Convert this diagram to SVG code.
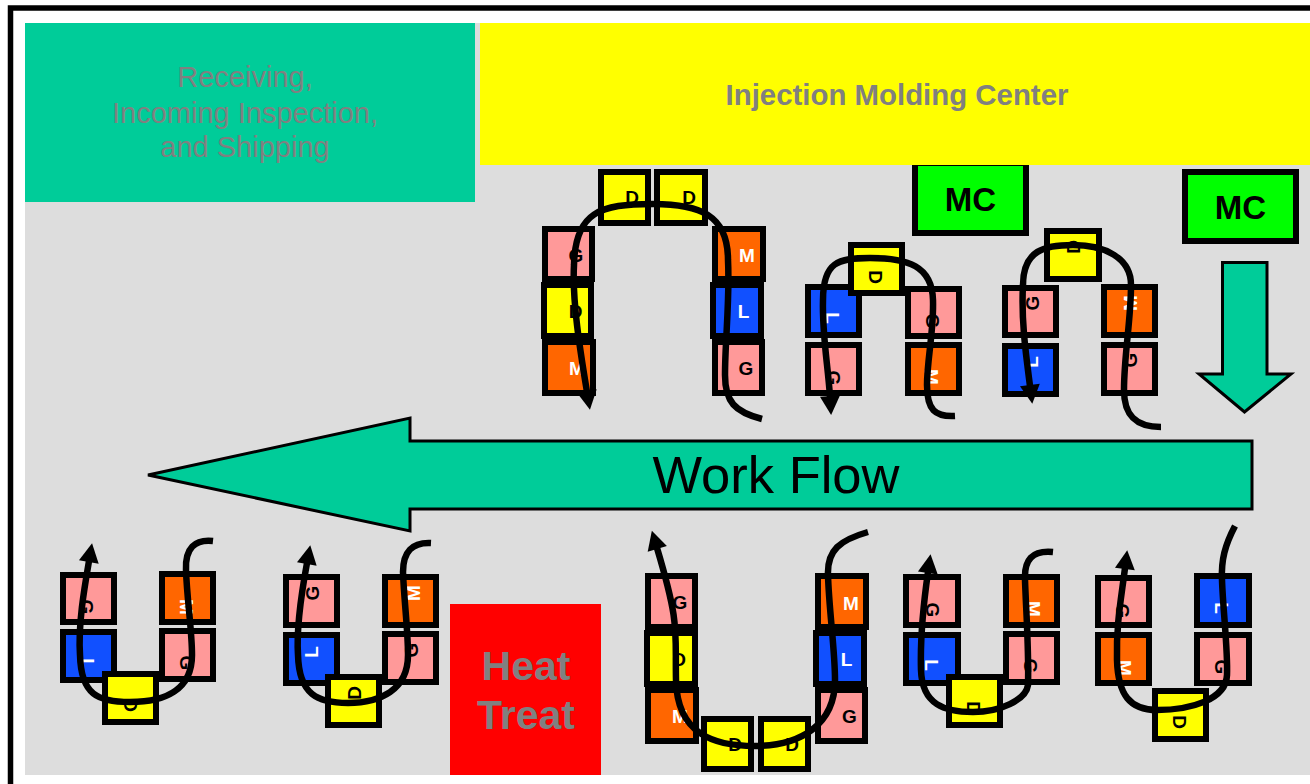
<svg xmlns="http://www.w3.org/2000/svg" width="1310" height="784" viewBox="0 0 1310 784">
<style>
.b{stroke:#000;stroke-width:6}
.p{fill:#FF9999}.o{fill:#FF6600}.u{fill:#1150FF}.y{fill:#FFFF00}.g{fill:#00FF00}
text{font-family:"Liberation Sans",Arial,sans-serif}
.l{font-size:19px;font-weight:bold;text-anchor:middle;fill:#000}
.w{fill:#fff}
.m{font-size:33px;font-weight:bold;text-anchor:middle;fill:#000}
.c{fill:none;stroke:#000;stroke-width:6.500;marker-end:url(#ah)}
.t{fill:#00CC99}
.gt{fill:#808080;text-anchor:middle}
</style>
<defs>
<marker id="ah" markerUnits="userSpaceOnUse" markerWidth="22" markerHeight="22" refX="1" refY="10" orient="auto" overflow="visible"><path d="M0 0L19 10L0 20Z" fill="#000"/></marker>
</defs>
<rect width="1310" height="784" fill="#fff"/>
<rect id="frame" x="10.500" y="8" width="1400" height="900" fill="none" stroke="#000" stroke-width="5.500"/>
<rect id="floor" x="25" y="23" width="1285" height="752" fill="#DDDDDD"/>
<g id="receiving"><rect x="25" y="23" width="450" height="179" class="t"/><text class="gt" font-size="29" x="245" y="87">Receiving,</text><text class="gt" font-size="29" x="245" y="123">Incoming Inspection,</text><text class="gt" font-size="29" x="245" y="157">and Shipping</text></g>
<g id="mc1"><rect class="b g" x="915" y="163" width="111" height="70"/><text class="m" x="970.500" y="211">MC</text></g>
<g id="molding"><rect x="480" y="23" width="830" height="142" fill="#FFFF00"/><text class="gt" font-size="29.400" font-weight="bold" x="897" y="105">Injection Molding Center</text></g>
<g id="heat"><rect x="450" y="604" width="151" height="171" fill="#FF0000"/><text class="gt" font-size="41" font-weight="bold" x="526" y="680">Heat</text><text class="gt" font-size="41" font-weight="bold" x="526" y="729">Treat</text></g>
<g id="mc2"><rect class="b g" x="1185" y="172" width="111" height="69"/><text class="m" x="1240.500" y="219">MC</text></g>
<path id="downarrow" d="M1222.500 262.500H1267V374H1291L1244.500 412L1199 374H1222.500Z" class="t" stroke="#000" stroke-width="3"/>
<g id="workflow"><path d="M148 475L410 418V441H1252V509H410V531Z" class="t" stroke="#000" stroke-width="3"/><text x="776" y="493" font-size="52.500" text-anchor="middle" fill="#000">Work Flow</text></g>

<g id="a1"><rect class="b p" x="545" y="229" width="47" height="50"/><text class="l" x="576" y="262">G</text></g>
<g id="a2"><rect class="b y" x="544" y="285" width="47" height="51"/><text class="l" x="575.500" y="318">D</text></g>
<g id="a3"><rect class="b o" x="545" y="342" width="48" height="51"/><text class="l w" x="577" y="375">M</text></g>
<g id="a4"><rect class="b y" x="601" y="172" width="47" height="51"/><text class="l" x="632" y="204">D</text></g>
<g id="a5"><rect class="b y" x="657" y="172" width="48" height="51"/><text class="l" x="689" y="204">D</text></g>
<g id="a6"><rect class="b o" x="715" y="229" width="48" height="50"/><text class="l w" x="747" y="262">M</text></g>
<g id="a7"><rect class="b u" x="713" y="285" width="48" height="51"/><text class="l w" x="743.500" y="318">L</text></g>
<g id="a8"><rect class="b p" x="715" y="342" width="47" height="51"/><text class="l" x="746" y="375">G</text></g>

<g id="b1"><rect class="b u" x="808" y="287" width="51" height="48"/><text class="l w" transform="translate(833 318) rotate(90)" y="7">L</text></g>
<g id="b2"><rect class="b p" x="808" y="345" width="51" height="48"/><text class="l" transform="translate(834 378) rotate(90)" y="7">G</text></g>
<g id="b3"><rect class="b p" x="908" y="289" width="51" height="47"/><text class="l" transform="translate(932.500 321) rotate(90)" y="7">G</text></g>
<g id="b4"><rect class="b o" x="908" y="345" width="51" height="48"/><text class="l w" transform="translate(932 377) rotate(90)" y="7">M</text></g>
<g id="b5"><rect class="b y" x="851" y="245" width="51" height="48"/><text class="l" transform="translate(876 277) rotate(90)" y="7">D</text></g>

<g id="c1"><rect class="b p" x="1005" y="288" width="51" height="47"/><text class="l" transform="translate(1032 303) rotate(-90)" y="7">G</text></g>
<g id="c2"><rect class="b u" x="1005" y="346" width="51" height="48"/><text class="l w" transform="translate(1031 362) rotate(-90)" y="7">L</text></g>
<g id="c3"><rect class="b o" x="1104" y="287" width="51" height="48"/><text class="l w" transform="translate(1130 303) rotate(-90)" y="7">M</text></g>
<g id="c4"><rect class="b p" x="1104" y="345" width="51" height="48"/><text class="l" transform="translate(1130 360) rotate(-90)" y="7">G</text></g>
<g id="c5"><rect class="b y" x="1047" y="231" width="52" height="48"/><text class="l" transform="translate(1073 247) rotate(-90)" y="7">D</text></g>

<g id="d1"><rect class="b p" x="63" y="575" width="51" height="47"/><text class="l" transform="translate(87 607) rotate(90)" y="7">G</text></g>
<g id="d2"><rect class="b u" x="63" y="632" width="51" height="48"/><text class="l w" transform="translate(88 664) rotate(90)" y="7">L</text></g>
<g id="d3"><rect class="b o" x="162" y="574" width="51" height="48"/><text class="l w" transform="translate(187 607) rotate(90)" y="7">M</text></g>
<g id="d4"><rect class="b p" x="162" y="631" width="51" height="48"/><text class="l" transform="translate(187 663) rotate(90)" y="7">G</text></g>
<g id="d5"><rect class="b y" x="105" y="674" width="51" height="48"/><text class="l" transform="translate(131 705) rotate(90)" y="7">D</text></g>

<g id="e1"><rect class="b p" x="286" y="577" width="51" height="48"/><text class="l" transform="translate(312 593) rotate(-90)" y="7">G</text></g>
<g id="e2"><rect class="b u" x="286" y="635" width="51" height="48"/><text class="l w" transform="translate(311 652) rotate(-90)" y="7">L</text></g>
<g id="e3"><rect class="b o" x="385" y="577" width="51" height="48"/><text class="l w" transform="translate(413 593) rotate(-90)" y="7">M</text></g>
<g id="e4"><rect class="b p" x="385" y="634" width="51" height="48"/><text class="l" transform="translate(411 650) rotate(-90)" y="7">G</text></g>
<g id="e5"><rect class="b y" x="328" y="677" width="51" height="48"/><text class="l" transform="translate(354 693) rotate(-90)" y="7">D</text></g>

<g id="f1"><rect class="b p" x="648" y="576" width="47" height="51"/><text class="l" x="680" y="609">G</text></g>
<g id="f2"><rect class="b y" x="647" y="633" width="48" height="51"/><text class="l" x="679" y="666">D</text></g>
<g id="f3"><rect class="b o" x="648" y="690" width="48" height="51"/><text class="l w" x="680" y="723">M</text></g>
<g id="f4"><rect class="b y" x="704" y="719" width="47" height="50"/><text class="l" x="735" y="751">D</text></g>
<g id="f5"><rect class="b y" x="761" y="719" width="47" height="50"/><text class="l" x="792" y="751">D</text></g>
<g id="f6"><rect class="b o" x="818" y="576" width="48" height="51"/><text class="l w" x="851" y="610">M</text></g>
<g id="f7"><rect class="b u" x="816" y="633" width="48" height="51"/><text class="l w" x="846.500" y="666">L</text></g>
<g id="f8"><rect class="b p" x="818" y="690" width="47" height="51"/><text class="l" x="849.500" y="723">G</text></g>

<g id="g1"><rect class="b p" x="906" y="577" width="52" height="48"/><text class="l" transform="translate(933 610) rotate(90)" y="7">G</text></g>
<g id="g2"><rect class="b u" x="906" y="635" width="52" height="48"/><text class="l w" transform="translate(932 665) rotate(90)" y="7">L</text></g>
<g id="g3"><rect class="b o" x="1006" y="577" width="51" height="48"/><text class="l w" transform="translate(1034 609) rotate(90)" y="7">M</text></g>
<g id="g4"><rect class="b p" x="1006" y="634" width="51" height="48"/><text class="l" transform="translate(1031 666) rotate(90)" y="7">G</text></g>
<g id="g5"><rect class="b y" x="949" y="677" width="51" height="48"/><text class="l" transform="translate(974 708) rotate(90)" y="7">D</text></g>

<g id="h1"><rect class="b p" x="1098" y="578" width="51" height="47"/><text class="l" transform="translate(1123 611) rotate(90)" y="7">G</text></g>
<g id="h2"><rect class="b o" x="1098" y="635" width="51" height="48"/><text class="l w" transform="translate(1125 668) rotate(90)" y="7">M</text></g>
<g id="h3"><rect class="b u" x="1197" y="576" width="52" height="49"/><text class="l w" transform="translate(1222 608) rotate(90)" y="7">L</text></g>
<g id="h4"><rect class="b p" x="1197" y="635" width="52" height="48"/><text class="l" transform="translate(1222 667) rotate(90)" y="7">G</text></g>
<g id="h5"><rect class="b y" x="1155" y="691" width="51" height="48"/><text class="l" transform="translate(1180 722) rotate(90)" y="7">D</text></g>

<g id="connectors">
<path class="c" d="M762 419C735 412 725 402 725 375C725 340 730 300 728 260C728 215 700 204 653 204C600 204 575 212 574 265C572 300 580 350 587 392"/>
<path class="c" d="M955 416C935 417 927 410 927 385C927 360 934 330 933 300C932 266 908 258 870 258C838 258 823 262 823 300C822 335 828 365 830 397"/>
<path class="c" d="M1161 427C1135 427 1124 415 1124 390C1124 355 1131 320 1131 285C1131 258 1105 245 1073 245C1045 245 1023 250 1023 285C1021 320 1026 355 1030 386"/>
<path class="c" d="M213 541C195 539 185 548 186 570C187 600 192 630 192 655C192 690 165 702 130 702C98 702 81 695 80 655C78 625 84 590 89 561"/>
<path class="c" d="M431 543C412 542 403 552 403 572C404 600 408 630 408 655C408 690 380 703 348 703C318 703 299 695 298 655C296 625 302 590 307 563"/>
<path class="c" d="M868 532C840 540 827 550 828 575C829 610 835 650 835 680C835 725 800 746 755 746C715 746 677 735 676 680C675 630 680 625 657 548"/>
<path class="c" d="M1053 552C1032 550 1024 560 1025 580C1026 610 1029 650 1028 685C1026 700 1000 712 973 712C945 712 922 705 921 670C920 635 924 600 928 572"/>
<path class="c" d="M1235 526C1225 545 1221 560 1222 580C1223 610 1228 650 1227 675C1226 700 1190 710 1157 710C1130 710 1118 695 1117 660C1116 625 1121 600 1125 568"/>
</g>
</svg>
